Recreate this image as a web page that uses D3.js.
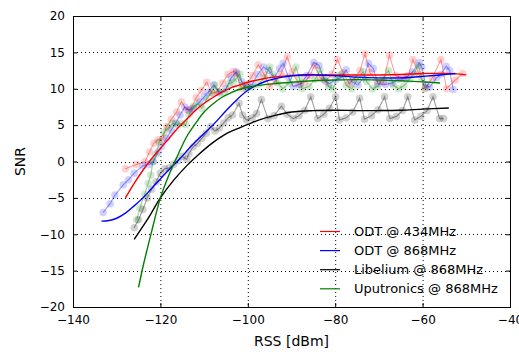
<!DOCTYPE html>
<html><head><meta charset="utf-8">
<script src="https://cdn.jsdelivr.net/npm/d3@7"></script>
<style>body{margin:0;background:#fff}svg{display:block}text{font-family:"DejaVu Sans",sans-serif}</style>
</head><body><svg id="c" width="519" height="352"></svg>
<script>
const xTicks=[-140,-120,-100,-80,-60,-40];
const yTicks=[-20,-15,-10,-5,0,5,10,15,20];
const seriesNames=["ODT @ 434MHz","ODT @ 868MHz","Libelium @ 868MHz","Uputronics @ 868MHz"];
const seriesColors=["#ff0000","#0000ff","#000000","#008000"];

const redPts=[[-128,-1.0],[-125.5,-0.4],[-123.5,0.0],[-122.5,1.3],[-121.5,2.5],[-120.5,3.0],[-119.5,3.1],[-118.6,4.8],[-117.5,5.8],[-116.3,6.8],[-115.2,8.2],[-114.0,7.1],[-113.0,7.2],[-111.8,8.8],[-110.6,9.8],[-109.4,10.9],[-108.2,9.4],[-107.0,9.6],[-105.8,10.8],[-104.5,12.0],[-103.2,12.4],[-102.6,12.1],[-101.4,10.0],[-100.2,10.6],[-99.0,11.8],[-97.6,13.3],[-96.3,12.0],[-95.0,10.3],[-93.7,11.0],[-92.4,12.0],[-91.0,14.4],[-89.8,12.3],[-88.3,10.6],[-87.0,10.9],[-85.8,11.8],[-84.7,13.2],[-83.4,11.5],[-82.2,11.0],[-80.8,12.0],[-79.5,14.0],[-78.2,12.2],[-76.8,10.7],[-75.5,11.5],[-74.3,12.5],[-73.2,14.8],[-72.0,12.2],[-70.4,11.0],[-69.0,10.9],[-67.6,14.6],[-66.2,11.8],[-64.5,11.5],[-63.3,11.8],[-62.2,14.0],[-60.8,12.0],[-59.3,10.1],[-57.8,11.5],[-55.8,14.0],[-54.5,10.0],[-52.5,11.2],[-50.8,12.1]];
const bluePts=[[-133.1,-7.0],[-131.5,-5.8],[-130.4,-4.6],[-128.5,-3.2],[-127.3,-2.5],[-126,-1.6],[-124,-0.6],[-122.6,-0.4],[-121.6,0.0],[-120.5,1.3],[-119.7,2.1],[-118.6,3.2],[-117.5,4.3],[-116.5,5.3],[-115.5,6.4],[-114.4,7.5],[-113.4,7.0],[-112.5,7.3],[-111.0,8.2],[-110.0,8.9],[-109.1,9.5],[-107.8,10.5],[-106.5,9.4],[-105.0,10.0],[-103.8,11.5],[-102.6,12.3],[-101.4,11.0],[-100.3,10.2],[-99.0,10.6],[-97.7,12.0],[-96.4,13.0],[-95.2,12.5],[-94.0,11.5],[-92.7,12.8],[-91.9,13.5],[-90.7,11.6],[-89.6,10.3],[-88.0,10.6],[-86.5,11.8],[-84.9,13.6],[-83.7,13.2],[-82.5,11.2],[-81.4,10.7],[-79.9,11.2],[-78.5,11.6],[-77.5,12.6],[-76.2,11.0],[-74.8,10.5],[-73.5,11.5],[-72.4,13.5],[-71.3,12.8],[-70.2,10.7],[-68.5,10.6],[-67.0,10.8],[-65.5,11.3],[-64.0,11.4],[-62.3,12.3],[-60.8,13.6],[-60.2,13.0],[-59.3,10.5],[-58.4,10.2],[-56.8,11.5],[-55.8,12.0],[-54.6,13.1],[-53.8,12.5],[-53.0,9.9]];
const blackPts=[[-126,-9.1],[-125,-8.0],[-124,-6.6],[-123,-5.0],[-122,-3.8],[-121,-2.8],[-120,-1.6],[-119,-1.0],[-118,-0.9],[-117,-0.4],[-116,0.1],[-115,0.7],[-114,0.3],[-113.5,1.1],[-112.5,2.0],[-111.5,2.5],[-110.5,3.2],[-109.5,3.9],[-108.5,4.8],[-107.5,4.2],[-106.5,4.6],[-105.5,5.3],[-104.5,6.0],[-103.5,6.4],[-102,8.0],[-101.2,6.4],[-100.3,5.7],[-99,6.0],[-98,6.6],[-96.9,8.5],[-95.4,5.9],[-94,6.3],[-92.3,7.6],[-91,6.5],[-89.6,5.9],[-88.3,6.3],[-87,7.0],[-85.6,8.9],[-84,5.9],[-82.6,6.5],[-81.3,7.3],[-79.9,8.9],[-79,5.7],[-77.5,6.0],[-76,6.8],[-74.4,8.7],[-73.3,5.8],[-71.7,6.3],[-70.2,7.1],[-68.7,8.9],[-67.5,5.9],[-66,6.2],[-64.6,7.0],[-63.4,8.9],[-61.8,5.7],[-60.4,6.2],[-59,7.0],[-57.6,8.9],[-56.1,5.9],[-55.2,5.9]];
const greenPts=[[-125.4,-8.0],[-124.7,-6.4],[-123.6,-4.5],[-122.8,-3.0],[-122.2,-1.9],[-121.7,0.0],[-121.0,1.0],[-120.3,2.7],[-119.2,4.0],[-118.2,4.6],[-117.2,5.2],[-116.2,5.1],[-115.2,5.2],[-114.2,5.1],[-113.4,6.5],[-112.4,7.6],[-111.4,7.9],[-110.5,7.3],[-109.4,8.6],[-108.3,9.5],[-107.6,10.5],[-106.6,9.6],[-105.4,9.5],[-104.3,10.7],[-103.4,10.9],[-102.5,11.5],[-101.8,12.0],[-101.2,10.5],[-100.2,10.0],[-99.0,10.2],[-97.6,10.6],[-96.2,11.5],[-95.0,13.0],[-94.3,12.0],[-93.2,10.8],[-92.0,10.0],[-90.5,10.8],[-89.0,13.0],[-88.2,11.5],[-87.6,10.0],[-86.0,10.3],[-84.6,11.3],[-83.5,12.5],[-82.5,11.5],[-81.5,10.3],[-80.5,10.0],[-79.4,11.8],[-78.5,12.0],[-77.5,10.5],[-76.2,10.0],[-75.0,11.2],[-73.6,12.3],[-72.8,11.0],[-71.5,10.0],[-70.3,10.3],[-69.0,11.5],[-67.8,12.5],[-66.7,10.5],[-65.5,10.0],[-64.3,10.4],[-63.0,11.3],[-62.0,12.0],[-61.0,13.2],[-60.2,11.5],[-59.5,10.0]];

const redFit=[[-128,-5],[-126,-3],[-124,-1.2],[-122,0.4],[-120,1.8],[-118,3.2],[-116,4.6],[-114,5.8],[-112,7.0],[-110,8.0],[-108,8.8],[-106,9.5],[-104,10.1],[-102,10.5],[-100,10.9],[-97,11.3],[-94,11.6],[-90,11.8],[-85,11.9],[-80,11.9],[-75,11.9],[-70,11.9],[-65,11.95],[-60,12.1],[-55,12.1],[-52,12.05],[-50,11.9]];
const blueFit=[[-133.5,-8.2],[-132,-8.15],[-130,-7.8],[-128,-7.1],[-126,-6.1],[-124,-5],[-122,-3.7],[-120,-2.4],[-118,-1.1],[-116,0.1],[-112,2.7],[-108,5.0],[-104,7.6],[-100,9.8],[-96,11.0],[-92,11.6],[-88,11.9],[-84,11.9],[-80,11.8],[-75,11.6],[-70,11.5],[-65,11.5],[-60,11.7],[-56,11.9],[-52.5,12.1]];
const blackFit=[[-126,-10.7],[-123,-8],[-120,-5],[-117,-2.6],[-114,-0.6],[-111,1.1],[-108,2.6],[-105,3.8],[-102,4.6],[-100,5.1],[-97,5.8],[-94,6.3],[-90,6.8],[-85,7.0],[-80,7.05],[-75,7.0],[-70,7.0],[-65,7.05],[-60,7.2],[-54,7.35]];
const greenFit=[[-125,-17.3],[-124,-14.5],[-123,-12],[-122,-9.6],[-121,-7.2],[-120,-5],[-118,-1.8],[-116,0.9],[-114,3.4],[-112,5.2],[-110,6.8],[-108,7.9],[-106,8.8],[-104,9.4],[-102,9.9],[-100,10.2],[-97,10.5],[-94,10.7],[-90,10.9],[-85,11.1],[-80,11.2],[-75,11.25],[-70,11.2],[-65,11.1],[-60,10.95],[-56,10.8]];

const pts=[redPts,bluePts,blackPts,greenPts];
const fits=[redFit,blueFit,blackFit,greenFit];

const L=73,R=510,T=16,B=307;
const svg=d3.select("#c");
const x=d3.scaleLinear().domain([-140,-40]).range([L,R]);
const y=d3.scaleLinear().domain([-20,20]).range([B,T]);
const fmt=d3.format("d");

// grid
const g=svg.append("g");
g.selectAll(".gx").data(xTicks.slice(1,-1)).join("line")
 .attr("x1",d=>x(d)+0.5).attr("x2",d=>x(d)+0.5).attr("y1",T).attr("y2",B)
 .attr("stroke","#000").attr("stroke-width",1).attr("stroke-dasharray","1,3");
g.selectAll(".gy").data(yTicks.slice(1,-1)).join("line")
 .attr("y1",d=>Math.round(y(d))+0.5).attr("y2",d=>Math.round(y(d))+0.5).attr("x1",L).attr("x2",R)
 .attr("stroke","#000").attr("stroke-width",1).attr("stroke-dasharray","1,3");

svg.append("defs").append("clipPath").attr("id","cp").append("rect").attr("x",L).attr("y",T).attr("width",R-L).attr("height",B-T);
const plot=svg.append("g").attr("clip-path","url(#cp)");
const line=d3.line().x(d=>x(d[0])).y(d=>y(d[1]));
const smooth=d3.line().x(d=>x(d[0])).y(d=>y(d[1])).curve(d3.curveCatmullRom);

pts.forEach((p,i)=>{
  plot.append("path").attr("d",line(p)).attr("fill","none").attr("stroke",seriesColors[i]).attr("stroke-opacity",0.38).attr("stroke-width",1.1);
  plot.append("g").selectAll("circle").data(p).join("circle")
   .attr("cx",d=>x(d[0])).attr("cy",d=>y(d[1])).attr("r",3.8)
   .attr("fill",seriesColors[i]).attr("fill-opacity",0.18).attr("stroke","none");
});
fits.forEach((f,i)=>{
  plot.append("path").attr("d",smooth(f)).attr("fill","none").attr("stroke",seriesColors[i]).attr("stroke-width",1.4);
});

// axes
const ax=d3.axisBottom(x).tickValues(xTicks).tickFormat(fmt).tickSizeInner(-4).tickSizeOuter(0).tickPadding(8);
const ay=d3.axisLeft(y).tickValues(yTicks).tickFormat(fmt).tickSizeInner(-4).tickSizeOuter(0).tickPadding(8);
const gx=svg.append("g").attr("transform",`translate(0,${B})`).call(ax);
const gy=svg.append("g").attr("transform",`translate(${L},0)`).call(ay);
const gxt=svg.append("g").attr("transform",`translate(0,${T})`).call(d3.axisTop(x).tickValues(xTicks).tickFormat("").tickSizeInner(-4).tickSizeOuter(0));
const gyr=svg.append("g").attr("transform",`translate(${R},0)`).call(d3.axisRight(y).tickValues(yTicks).tickFormat("").tickSizeInner(-4).tickSizeOuter(0));
[gx,gy,gxt,gyr].forEach(a=>{a.select(".domain").remove();a.selectAll("line").attr("stroke","#000");a.selectAll("text").attr("font-size",12).attr("fill","#000").attr("font-family","DejaVu Sans");});
svg.append("rect").attr("x",L+0.5).attr("y",T+0.5).attr("width",R-L).attr("height",B-T).attr("fill","none").attr("stroke","#000").attr("stroke-width",1);

svg.append("text").attr("x",(L+R)/2).attr("y",346).attr("text-anchor","middle").attr("font-size",14).text("RSS [dBm]");
svg.append("text").attr("transform",`translate(25,${(T+B)/2}) rotate(-90)`).attr("text-anchor","middle").attr("font-size",14).text("SNR");

// legend
const lg=svg.append("g");
seriesNames.forEach((n,i)=>{
  const yy=231.5+i*19.1;
  lg.append("line").attr("x1",320).attr("x2",340).attr("y1",yy).attr("y2",yy).attr("stroke",seriesColors[i]).attr("stroke-width",1.2);
  lg.append("text").attr("x",354).attr("y",yy+4.5).attr("font-size",13).text(n);
});
</script></body></html>
